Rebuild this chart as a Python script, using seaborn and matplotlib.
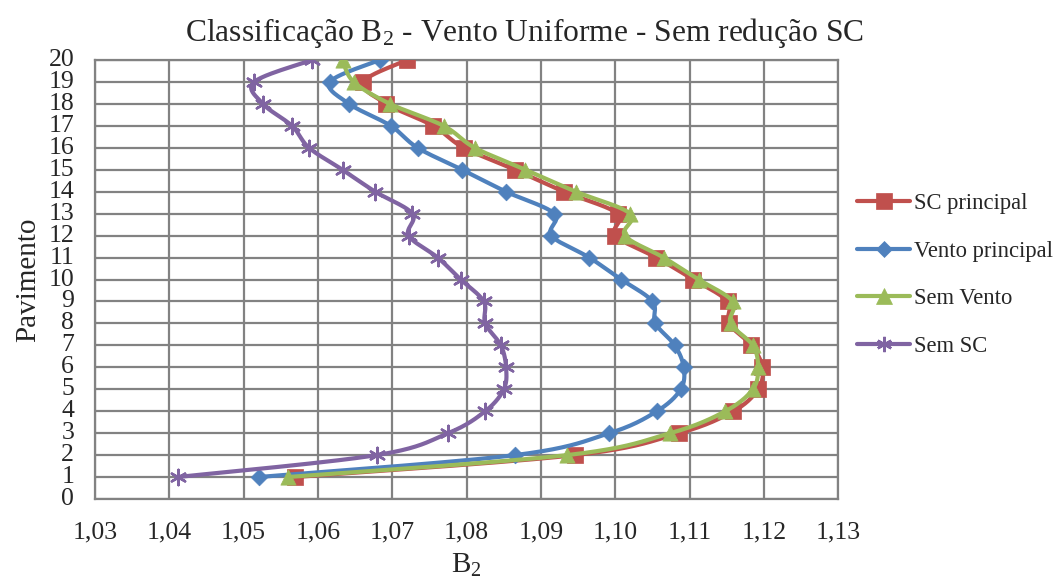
import numpy as np
import pandas as pd
import matplotlib
matplotlib.use("Agg")
import matplotlib.pyplot as plt
from matplotlib.lines import Line2D
from matplotlib.ticker import FuncFormatter
import seaborn as sns

# Floors (pavimentos) and B2 coefficient for each case
pavimento = list(range(1, 21))

sc_principal = [1.0569, 1.0946, 1.1086, 1.1159, 1.1192, 1.1198, 1.1183, 1.1153, 1.1151, 1.1105,
                1.1055, 1.1000, 1.1003, 1.0931, 1.0865, 1.0796, 1.0755, 1.0692, 1.0661, 1.0720]
vento_principal = [1.0520, 1.0865, 1.0992, 1.1056, 1.1088, 1.1092, 1.1080, 1.1054, 1.1050, 1.1008,
                   1.0965, 1.0914, 1.0918, 1.0853, 1.0794, 1.0734, 1.0698, 1.0642, 1.0616, 1.0683]
sem_vento = [1.0559, 1.0935, 1.1074, 1.1148, 1.1185, 1.1192, 1.1185, 1.1155, 1.1158, 1.1112,
             1.1065, 1.1013, 1.1020, 1.0947, 1.0879, 1.0811, 1.0769, 1.0697, 1.0648, 1.0633]
sem_sc = [1.0411, 1.0679, 1.0775, 1.0825, 1.0850, 1.0853, 1.0846, 1.0825, 1.0823, 1.0792,
          1.0761, 1.0722, 1.0727, 1.0677, 1.0633, 1.0588, 1.0565, 1.0526, 1.0514, 1.0592]

series_names = ["SC principal", "Vento principal", "Sem Vento", "Sem SC"]
series_values = [sc_principal, vento_principal, sem_vento, sem_sc]
x_ticks = [1.03, 1.04, 1.05, 1.06, 1.07, 1.08, 1.09, 1.10, 1.11, 1.12, 1.13]

colors = ["#C0504D", "#4F81BD", "#9BBB59", "#8064A2"]
markers = ["s", "D", "^", (6, 2, 0)]
msizes = [11, 8.5, 11, 11]

sns.set_style("white")
plt.rcParams["font.family"] = ["Liberation Serif", "DejaVu Serif"]
plt.rcParams["mathtext.fontset"] = "custom"
plt.rcParams["mathtext.rm"] = "Liberation Serif"
plt.rcParams["mathtext.it"] = "Liberation Serif:italic"
plt.rcParams["mathtext.default"] = "rm"


def bezier_path(xs, ys, sx=340.0, n=24):
    """Smoothed path through the points (cubic Bezier, Catmull-Rom style tangents)."""
    P = np.column_stack([np.asarray(xs, float) * sx, np.asarray(ys, float)])
    out = []
    for i in range(len(P) - 1):
        p0 = P[max(i - 1, 0)]
        p1 = P[i]
        p2 = P[i + 1]
        p3 = P[min(i + 2, len(P) - 1)]
        c1 = p1 + (p2 - p0) / 6.0
        c2 = p2 - (p3 - p1) / 6.0
        t = np.linspace(0, 1, n)[:, None]
        seg = (1 - t) ** 3 * p1 + 3 * (1 - t) ** 2 * t * c1 + 3 * (1 - t) * t ** 2 * c2 + t ** 3 * p2
        out.append(seg if i == 0 else seg[1:])
    arr = np.vstack(out)
    return arr[:, 0] / sx, arr[:, 1]


fig = plt.figure(figsize=(10.63, 5.88), dpi=100)
ax = fig.add_axes([95 / 1063, 1 - 499 / 588, (838.3 - 95) / 1063, (499 - 60) / 588])

grid_c = "#828282"
for k, (name, vals) in enumerate(zip(series_names, series_values)):
    cx, cy = bezier_path(vals, pavimento)
    curve = pd.DataFrame({"B2": cx, "Pavimento": cy})
    sns.lineplot(data=curve, x="B2", y="Pavimento", sort=False, estimator=None,
                 color=colors[k], linewidth=3, ax=ax, zorder=3 + k)
    pts = pd.DataFrame({"B2": vals, "Pavimento": pavimento})
    sns.scatterplot(data=pts, x="B2", y="Pavimento", marker=markers[k], s=msizes[k] ** 2,
                    color=colors[k], edgecolor=colors[k],
                    linewidth=1.8 if k == 3 else 0.5, ax=ax, zorder=3 + k)

ax.set_xlim(x_ticks[0], x_ticks[-1])
ax.set_ylim(0, 20)
ax.set_xticks(x_ticks)
ax.set_yticks(range(0, 21))
ax.xaxis.set_major_formatter(FuncFormatter(lambda v, p: f"{v:.2f}".replace(".", ",")))
ax.grid(True, color=grid_c, linewidth=1.6)
ax.set_axisbelow(True)
for s in ax.spines.values():
    s.set_color(grid_c)
    s.set_linewidth(1.6)
ax.tick_params(axis="both", which="both", direction="out", length=6, width=1.6,
               color=grid_c, labelsize=18.5)
ax.tick_params(axis="x", pad=10)
ax.tick_params(axis="y", pad=9)
for lbl in ax.get_yticklabels():
    lbl.set_verticalalignment("center")

ax.set_xlabel("B$_2$", fontsize=21, labelpad=6)
ax.set_ylabel("Pavimento", fontsize=21, labelpad=5)
fig.suptitle("Classificação B$_2$ - Vento Uniforme - Sem redução SC", fontsize=22.7,
             x=0.493, y=0.972)

handles = [Line2D([0], [0], color=colors[k], linewidth=3, marker=markers[k],
                  markersize=msizes[k], markeredgewidth=1.8 if k == 3 else 0.5,
                  markeredgecolor=colors[k], markerfacecolor=colors[k])
           for k in range(4)]
fig.legend(handles, series_names, loc="center left", bbox_to_anchor=(848 / 1063, 1 - 275 / 588),
           frameon=False, fontsize=16.3, handlelength=2.35, handletextpad=0.15,
           labelspacing=1.18, borderaxespad=0)

fig.savefig("out.png", dpi=100)
